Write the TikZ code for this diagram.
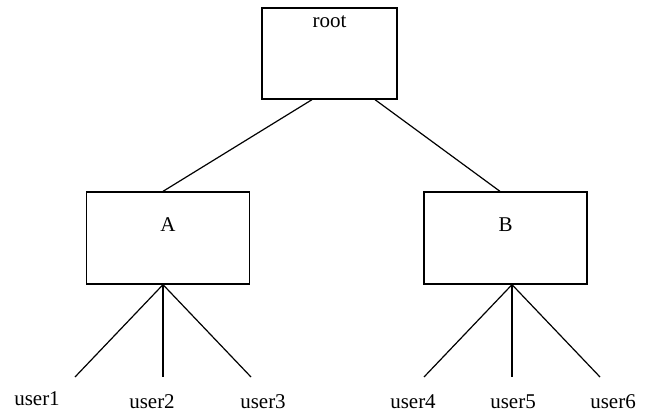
\documentclass[tikz,border=0pt]{standalone}
\usepackage{fontspec}
\setmainfont{Liberation Serif}
\begin{document}
\begin{tikzpicture}[x=1pt,y=-1pt,
  every node/.style={font=\fontsize{21}{23}\selectfont},
  groupbox/.style={draw,line width=1.3pt,rectangle,inner sep=0pt},
  link/.style={line width=1.2pt},
  leaf/.style={inner sep=0pt,anchor=center}]
\useasboundingbox (0,0) rectangle (647,414);
% boxes
\node[groupbox,minimum width=135pt,minimum height=91pt,
  label={[anchor=center,inner sep=0pt,yshift=-14pt]north:root}] (root) at (329.5,53.5) {};
\node[groupbox,minimum width=163pt,minimum height=92pt,
  label={[anchor=center,inner sep=0pt,yshift=-33pt]north:A}] (A) at (168,238) {};
\node[groupbox,minimum width=163pt,minimum height=92pt,
  label={[anchor=center,inner sep=0pt,yshift=-33pt]north:B}] (B) at (505.5,238) {};
% attachment points
\coordinate (rl) at ([xshift=-17.5pt]root.south);
\coordinate (rr) at ([xshift=45.5pt]root.south);
\coordinate (at) at ([xshift=-5pt]A.north);
\coordinate (bt) at ([xshift=-5.5pt]B.north);
\coordinate (ab) at ([xshift=-5pt]A.south);
\coordinate (bb) at ([xshift=6.5pt]B.south);
\draw[link] (rl) -- (at);
\draw[link] (rr) -- (bt);
% leaf ends
\coordinate (e1) at (75,377);
\coordinate (e2) at (163,377);
\coordinate (e3) at (251,377);
\coordinate (e4) at (424,377);
\coordinate (e5) at (512,377);
\coordinate (e6) at (600,377);
\foreach \e in {e1,e2,e3} \draw[link] (ab) -- (\e);
\foreach \e in {e4,e5,e6} \draw[link] (bb) -- (\e);
% leaf labels
\node[leaf] (u1) at (37,399) {user1};
\node[leaf] (u2) at (152,402) {user2};
\node[leaf] (u3) at (263,402) {user3};
\node[leaf] (u4) at (413,402) {user4};
\node[leaf] (u5) at (513,402) {user5};
\node[leaf] (u6) at (613,402) {user6};
\end{tikzpicture}
\end{document}
